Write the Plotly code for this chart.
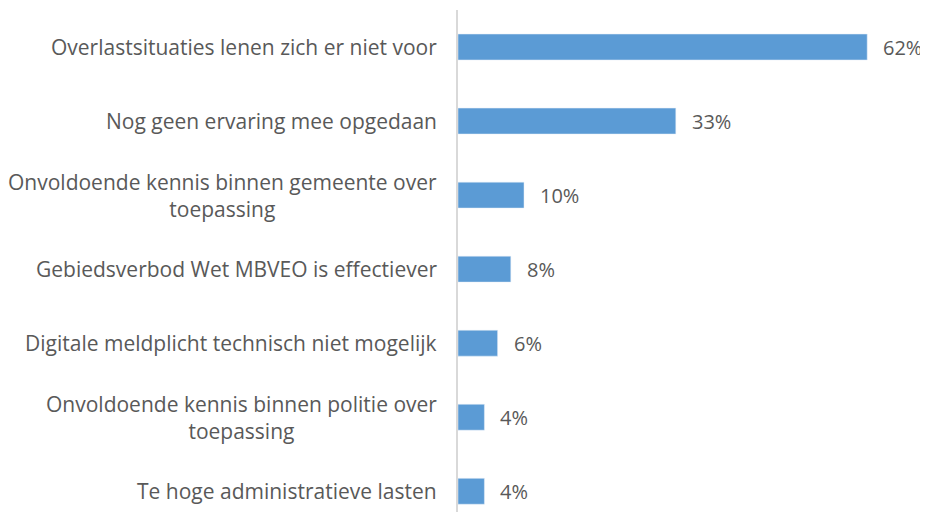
import plotly.graph_objects as go

categories = [
    "Overlastsituaties lenen zich er niet voor",
    "Nog geen ervaring mee opgedaan",
    "Onvoldoende kennis binnen gemeente over<br>toepassing",
    "Gebiedsverbod Wet MBVEO is effectiever",
    "Digitale meldplicht technisch niet mogelijk",
    "Onvoldoende kennis binnen politie over<br>toepassing",
    "Te hoge administratieve lasten",
]
values = [62, 33, 10, 8, 6, 4, 4]

font_family = "'Open Sans', Lato, sans-serif"
text_color = "#595959"

fig = go.Figure()
fig.add_trace(go.Bar(
    x=values,
    y=list(range(len(categories))),
    orientation="h",
    marker=dict(color="#5B9BD5"),
    width=0.35,
    hoverinfo="skip",
))

# category labels, centred multi-line like the original
for i, c in enumerate(categories):
    fig.add_annotation(x=0, y=i, xref="x", yref="y", text=c, showarrow=False,
                       xanchor="right", yanchor="middle", align="center",
                       xshift=-19, font=dict(size=21, color=text_color, family=font_family))

# value labels
for i, v in enumerate(values):
    fig.add_annotation(x=v, y=i, xref="x", yref="y", text=f"{v}%", showarrow=False,
                       xanchor="left", yanchor="middle", xshift=14,
                       font=dict(size=20, color=text_color, family=font_family))

# page body adds an 8px margin, so the figure is sized to fit the window
fig.update_layout(
    width=920, height=504,
    margin=dict(l=450, r=8, t=2, b=0),
    plot_bgcolor="white", paper_bgcolor="white",
    showlegend=False,
    xaxis=dict(range=[0, 70], visible=False),
    yaxis=dict(range=[6.28, -0.5], showticklabels=False, showgrid=False, zeroline=False,
               showline=True, linecolor="#D9D9D9", linewidth=2),
)

fig.write_html("out.html")
